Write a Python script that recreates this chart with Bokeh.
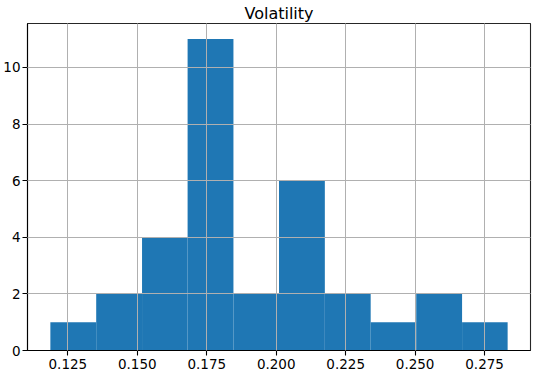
from bokeh.plotting import figure
from bokeh.models import Range1d, FixedTicker, NumeralTickFormatter
from bokeh.embed import file_html
from bokeh.resources import INLINE

# Data
bin_edges = [0.1187, 0.1352, 0.1517, 0.1681, 0.1846, 0.2010,
             0.2175, 0.2340, 0.2504, 0.2669, 0.2833]
counts = [1, 2, 4, 11, 2, 6, 2, 1, 2, 1]
x_ticks = [0.125, 0.150, 0.175, 0.200, 0.225, 0.250, 0.275]
y_ticks = [0, 2, 4, 6, 8, 10]
title_text = "Volatility"

FONT = "DejaVu Sans"

lo, hi = bin_edges[0], bin_edges[-1]
pad = (hi - lo) * 0.05
ymax = max(counts) * 1.05

p = figure(frame_width=503, frame_height=327, output_backend="svg",
           toolbar_location=None,
           x_range=Range1d(lo - pad, hi + pad), y_range=Range1d(0, ymax),
           min_border_left=0, min_border_right=7, min_border_top=0,
           min_border_bottom=0)

p.title.text = title_text
p.title.align = "center"
p.title.text_font = FONT
p.title.text_font_size = "16px"
p.title.text_font_style = "normal"
p.title.text_color = "black"
p.title.standoff = 2
p.title.offset = 0

p.quad(left=bin_edges[:-1], right=bin_edges[1:], top=counts, bottom=0,
       fill_color="#1f77b4", line_color=None)

p.xaxis.ticker = FixedTicker(ticks=x_ticks)
p.yaxis.ticker = FixedTicker(ticks=y_ticks)
p.xaxis.formatter = NumeralTickFormatter(format="0.000")

for ax in (p.xaxis[0], p.yaxis[0]):
    ax.major_label_text_font = FONT
    ax.major_label_text_font_size = "13.5px"
    ax.major_label_text_color = "black"
    ax.axis_line_color = "black"
    ax.axis_line_width = 1.1
    ax.major_tick_line_color = "black"
    ax.major_tick_line_width = 1.1
    ax.major_tick_out = 5
    ax.major_tick_in = 0
    ax.minor_tick_line_color = None
p.yaxis.major_label_standoff = 2
p.xaxis.major_label_standoff = 3

p.grid.level = "overlay"
p.grid.grid_line_color = "#b0b0b0"
p.grid.grid_line_width = 1.0
p.xgrid.ticker = FixedTicker(ticks=x_ticks)
p.ygrid.ticker = FixedTicker(ticks=y_ticks)

p.outline_line_color = "black"
p.outline_line_width = 1.1
p.outline_line_alpha = 0.85
p.background_fill_color = "white"
p.border_fill_color = "white"

open("out.html", "w").write(file_html(p, INLINE))
